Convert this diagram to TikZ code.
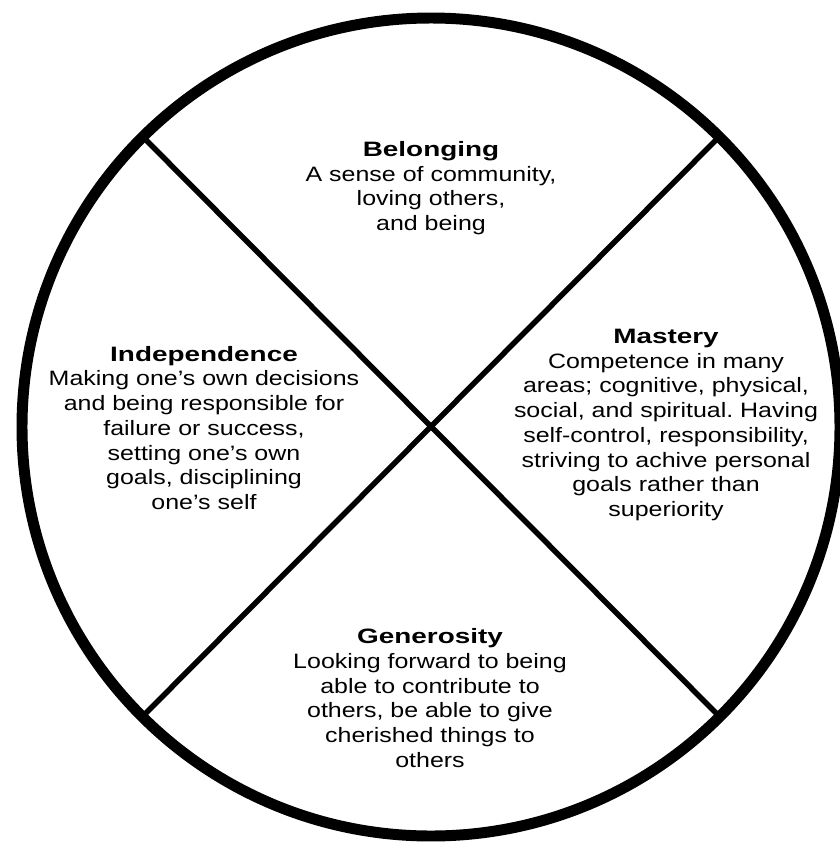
\documentclass[tikz,border=0pt]{standalone}
\usepackage{fontspec}
\setmainfont{Liberation Sans}[FakeStretch=1.2,BoldFeatures={FakeStretch=1.34}]
\usepackage{tikz}
\usetikzlibrary{positioning}
\frenchspacing

\begin{document}
\begin{tikzpicture}[x=0.025cm,y=-0.025cm,
    rim/.style={line width=7.8pt},
    spoke/.style={line width=3.9pt},
    quad/.style={align=center,inner sep=0pt,font=\fontsize{14.8}{17.6}\selectfont}]
            \useasboundingbox (0,0) rectangle (840,843);
            \coordinate (O) at (431,427);
            \coordinate (NW) at (146,140);
            \coordinate (NE) at (716,140);
            \coordinate (SW) at (146,713);
            \coordinate (SE) at (716,713);

            \draw[rim] (O) circle [radius=409];
            \draw[spoke] (NW) -- (SE);
            \draw[spoke] (NE) -- (SW);

            \node[quad] (belong) at (431,188) {\textbf{Belonging}\\A sense of community,\\loving others,\\and being};
            \node[quad] (indep) at (204,428) {\textbf{Independence}\\Making one’s own decisions\\and being responsible for\\failure or success,\\setting one’s own\\goals, disciplining\\one’s self};
            \node[quad] (master) at (666,425) {\textbf{Mastery}\\Competence in many\\areas; cognitive, physical,\\social, and spiritual. Having\\self-control, responsibility,\\striving to achive personal\\goals rather than\\superiority};
            \node[quad] (gener) at (430,698) {\textbf{Generosity}\\Looking forward to being\\able to contribute to\\others, be able to give\\cherished things to\\others};
          \end{tikzpicture}
\end{document}
